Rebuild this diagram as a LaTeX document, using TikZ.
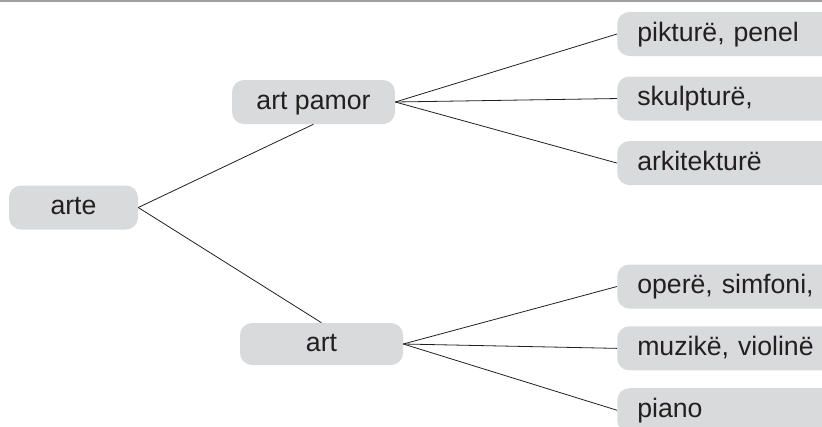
\documentclass[tikz,border=0pt]{standalone}
\usepackage{fontspec}
\setmainfont{Liberation Sans}
\usepackage{tikz}
\usetikzlibrary{positioning}
\definecolor{boxgray}{HTML}{D9DADB}
\definecolor{inkdark}{HTML}{231F20}

\begin{document}
\begin{tikzpicture}[x=0.75pt, y=-0.75pt, node distance=15pt,
  every node/.style={rectangle, rounded corners=9pt, fill=boxgray, text=inkdark, font=\fontsize{20}{23}\selectfont, text height=14.5pt, text depth=4pt},
  box/.style={minimum height=33pt, inner xsep=4pt},
  leaf/.style={minimum height=33pt, text width=140pt, align=left, inner xsep=15pt},
  link/.style={draw=inkdark, line width=0.6pt}]
\useasboundingbox (0,0) rectangle (822,426);
\draw[gray!75, line width=1.3pt] (0,1) -- (822,1);
% roots
\node[box, minimum width=96.75pt] (arte) at (73.5,207.5) {arte};
\node[box, minimum width=122.25pt] (pamor) at (313.5,102) {art pamor};
\node[box, minimum width=122.25pt, minimum height=31.5pt] (art) at (321.5,344) {art};
% leaves
\node[leaf, anchor=west] (piktura) at (617,34) {pikturë, penel};
\node[leaf, below=of piktura] (skulptura) {skulpturë,};
\node[leaf, below=of skulptura] (arkitektura) {arkitekturë};
\node[leaf, anchor=west] (opera) at (617,286.5) {operë, simfoni,};
\node[leaf, below=13pt of opera] (muzika) {muzikë, violinë};
\node[leaf, below=13pt of muzika] (piano) {piano};
% links
\draw[link] (arte.east) -- (pamor.south);
\draw[link] (arte.east) -- (art.north);
\foreach \n in {piktura, skulptura, arkitektura}
  \draw[link] (pamor.east) -- (\n.west);
\foreach \n in {opera, muzika, piano}
  \draw[link] (art.east) -- (\n.west);
\end{tikzpicture}
\end{document}
